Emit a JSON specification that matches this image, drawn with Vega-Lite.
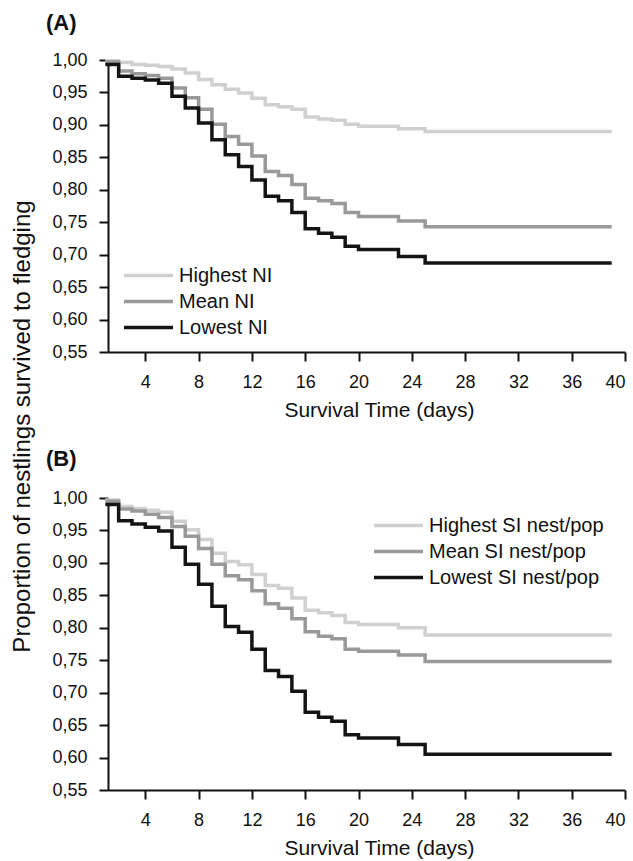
{
  "$schema": "https://vega.github.io/schema/vega-lite/v6.json",
  "background": "white",
  "padding": {"left": 10, "top": 12, "right": 5, "bottom": 5},
  "bounds": "flush",
  "spacing": 146,
  "config": {
    "font": "Liberation Sans",
    "view": {"stroke": null},
    "axis": {
      "grid": false,
      "domainColor": "#111111",
      "domainWidth": 2,
      "tickColor": "#111111",
      "tickWidth": 2,
      "tickSize": 9,
      "labelFontSize": 18,
      "labelColor": "#111111",
      "labelPadding": 12,
      "titleFontSize": 21,
      "titleFontWeight": "normal",
      "titleColor": "#111111"
    },
    "legend": {
      "labelFontSize": 20,
      "labelColor": "#111111",
      "labelLimit": 400,
      "symbolType": "stroke",
      "symbolSize": 2401,
      "symbolStrokeWidth": 3.5,
      "labelOffset": 4,
      "clipHeight": 25,
      "rowPadding": 1,
      "padding": 0,
      "title": null
    },
    "title": {"fontSize": 22, "fontWeight": "bold", "color": "#111111", "anchor": "start", "frame": "group"}
  },
  "datasets": {
    "A": [
      {"day": 1, "p": 0.999, "group": "Highest NI"},
      {"day": 2, "p": 0.996, "group": "Highest NI"},
      {"day": 3, "p": 0.993, "group": "Highest NI"},
      {"day": 4, "p": 0.992, "group": "Highest NI"},
      {"day": 5, "p": 0.990, "group": "Highest NI"},
      {"day": 6, "p": 0.986, "group": "Highest NI"},
      {"day": 7, "p": 0.980, "group": "Highest NI"},
      {"day": 8, "p": 0.970, "group": "Highest NI"},
      {"day": 9, "p": 0.962, "group": "Highest NI"},
      {"day": 10, "p": 0.955, "group": "Highest NI"},
      {"day": 11, "p": 0.949, "group": "Highest NI"},
      {"day": 12, "p": 0.941, "group": "Highest NI"},
      {"day": 13, "p": 0.931, "group": "Highest NI"},
      {"day": 14, "p": 0.928, "group": "Highest NI"},
      {"day": 15, "p": 0.924, "group": "Highest NI"},
      {"day": 16, "p": 0.912, "group": "Highest NI"},
      {"day": 17, "p": 0.909, "group": "Highest NI"},
      {"day": 18, "p": 0.907, "group": "Highest NI"},
      {"day": 19, "p": 0.901, "group": "Highest NI"},
      {"day": 20, "p": 0.898, "group": "Highest NI"},
      {"day": 23, "p": 0.894, "group": "Highest NI"},
      {"day": 25, "p": 0.890, "group": "Highest NI"},
      {"day": 39, "p": 0.890, "group": "Highest NI"},
      {"day": 1, "p": 0.997, "group": "Mean NI"},
      {"day": 2, "p": 0.983, "group": "Mean NI"},
      {"day": 3, "p": 0.979, "group": "Mean NI"},
      {"day": 4, "p": 0.976, "group": "Mean NI"},
      {"day": 5, "p": 0.972, "group": "Mean NI"},
      {"day": 6, "p": 0.957, "group": "Mean NI"},
      {"day": 7, "p": 0.942, "group": "Mean NI"},
      {"day": 8, "p": 0.924, "group": "Mean NI"},
      {"day": 9, "p": 0.901, "group": "Mean NI"},
      {"day": 10, "p": 0.882, "group": "Mean NI"},
      {"day": 11, "p": 0.870, "group": "Mean NI"},
      {"day": 12, "p": 0.852, "group": "Mean NI"},
      {"day": 13, "p": 0.828, "group": "Mean NI"},
      {"day": 14, "p": 0.822, "group": "Mean NI"},
      {"day": 15, "p": 0.808, "group": "Mean NI"},
      {"day": 16, "p": 0.787, "group": "Mean NI"},
      {"day": 17, "p": 0.783, "group": "Mean NI"},
      {"day": 18, "p": 0.779, "group": "Mean NI"},
      {"day": 19, "p": 0.765, "group": "Mean NI"},
      {"day": 20, "p": 0.759, "group": "Mean NI"},
      {"day": 23, "p": 0.752, "group": "Mean NI"},
      {"day": 25, "p": 0.743, "group": "Mean NI"},
      {"day": 39, "p": 0.743, "group": "Mean NI"},
      {"day": 1, "p": 0.993, "group": "Lowest NI"},
      {"day": 2, "p": 0.975, "group": "Lowest NI"},
      {"day": 3, "p": 0.972, "group": "Lowest NI"},
      {"day": 4, "p": 0.969, "group": "Lowest NI"},
      {"day": 5, "p": 0.964, "group": "Lowest NI"},
      {"day": 6, "p": 0.944, "group": "Lowest NI"},
      {"day": 7, "p": 0.926, "group": "Lowest NI"},
      {"day": 8, "p": 0.903, "group": "Lowest NI"},
      {"day": 9, "p": 0.877, "group": "Lowest NI"},
      {"day": 10, "p": 0.854, "group": "Lowest NI"},
      {"day": 11, "p": 0.836, "group": "Lowest NI"},
      {"day": 12, "p": 0.815, "group": "Lowest NI"},
      {"day": 13, "p": 0.790, "group": "Lowest NI"},
      {"day": 14, "p": 0.783, "group": "Lowest NI"},
      {"day": 15, "p": 0.765, "group": "Lowest NI"},
      {"day": 16, "p": 0.740, "group": "Lowest NI"},
      {"day": 17, "p": 0.733, "group": "Lowest NI"},
      {"day": 18, "p": 0.727, "group": "Lowest NI"},
      {"day": 19, "p": 0.713, "group": "Lowest NI"},
      {"day": 20, "p": 0.708, "group": "Lowest NI"},
      {"day": 23, "p": 0.697, "group": "Lowest NI"},
      {"day": 25, "p": 0.687, "group": "Lowest NI"},
      {"day": 39, "p": 0.687, "group": "Lowest NI"}
    ],
    "B": [
      {"day": 1, "p": 0.997, "group": "Highest SI nest/pop"},
      {"day": 2, "p": 0.987, "group": "Highest SI nest/pop"},
      {"day": 3, "p": 0.984, "group": "Highest SI nest/pop"},
      {"day": 4, "p": 0.981, "group": "Highest SI nest/pop"},
      {"day": 5, "p": 0.978, "group": "Highest SI nest/pop"},
      {"day": 6, "p": 0.964, "group": "Highest SI nest/pop"},
      {"day": 7, "p": 0.951, "group": "Highest SI nest/pop"},
      {"day": 8, "p": 0.936, "group": "Highest SI nest/pop"},
      {"day": 9, "p": 0.915, "group": "Highest SI nest/pop"},
      {"day": 10, "p": 0.902, "group": "Highest SI nest/pop"},
      {"day": 11, "p": 0.897, "group": "Highest SI nest/pop"},
      {"day": 12, "p": 0.882, "group": "Highest SI nest/pop"},
      {"day": 13, "p": 0.865, "group": "Highest SI nest/pop"},
      {"day": 14, "p": 0.861, "group": "Highest SI nest/pop"},
      {"day": 15, "p": 0.846, "group": "Highest SI nest/pop"},
      {"day": 16, "p": 0.827, "group": "Highest SI nest/pop"},
      {"day": 17, "p": 0.823, "group": "Highest SI nest/pop"},
      {"day": 18, "p": 0.819, "group": "Highest SI nest/pop"},
      {"day": 19, "p": 0.808, "group": "Highest SI nest/pop"},
      {"day": 20, "p": 0.805, "group": "Highest SI nest/pop"},
      {"day": 23, "p": 0.800, "group": "Highest SI nest/pop"},
      {"day": 25, "p": 0.789, "group": "Highest SI nest/pop"},
      {"day": 39, "p": 0.789, "group": "Highest SI nest/pop"},
      {"day": 1, "p": 0.995, "group": "Mean SI nest/pop"},
      {"day": 2, "p": 0.983, "group": "Mean SI nest/pop"},
      {"day": 3, "p": 0.980, "group": "Mean SI nest/pop"},
      {"day": 4, "p": 0.975, "group": "Mean SI nest/pop"},
      {"day": 5, "p": 0.970, "group": "Mean SI nest/pop"},
      {"day": 6, "p": 0.956, "group": "Mean SI nest/pop"},
      {"day": 7, "p": 0.941, "group": "Mean SI nest/pop"},
      {"day": 8, "p": 0.922, "group": "Mean SI nest/pop"},
      {"day": 9, "p": 0.898, "group": "Mean SI nest/pop"},
      {"day": 10, "p": 0.880, "group": "Mean SI nest/pop"},
      {"day": 11, "p": 0.874, "group": "Mean SI nest/pop"},
      {"day": 12, "p": 0.857, "group": "Mean SI nest/pop"},
      {"day": 13, "p": 0.837, "group": "Mean SI nest/pop"},
      {"day": 14, "p": 0.830, "group": "Mean SI nest/pop"},
      {"day": 15, "p": 0.814, "group": "Mean SI nest/pop"},
      {"day": 16, "p": 0.794, "group": "Mean SI nest/pop"},
      {"day": 17, "p": 0.787, "group": "Mean SI nest/pop"},
      {"day": 18, "p": 0.783, "group": "Mean SI nest/pop"},
      {"day": 19, "p": 0.767, "group": "Mean SI nest/pop"},
      {"day": 20, "p": 0.764, "group": "Mean SI nest/pop"},
      {"day": 23, "p": 0.758, "group": "Mean SI nest/pop"},
      {"day": 25, "p": 0.748, "group": "Mean SI nest/pop"},
      {"day": 39, "p": 0.748, "group": "Mean SI nest/pop"},
      {"day": 1, "p": 0.990, "group": "Lowest SI nest/pop"},
      {"day": 2, "p": 0.965, "group": "Lowest SI nest/pop"},
      {"day": 3, "p": 0.960, "group": "Lowest SI nest/pop"},
      {"day": 4, "p": 0.955, "group": "Lowest SI nest/pop"},
      {"day": 5, "p": 0.949, "group": "Lowest SI nest/pop"},
      {"day": 6, "p": 0.924, "group": "Lowest SI nest/pop"},
      {"day": 7, "p": 0.898, "group": "Lowest SI nest/pop"},
      {"day": 8, "p": 0.867, "group": "Lowest SI nest/pop"},
      {"day": 9, "p": 0.833, "group": "Lowest SI nest/pop"},
      {"day": 10, "p": 0.802, "group": "Lowest SI nest/pop"},
      {"day": 11, "p": 0.793, "group": "Lowest SI nest/pop"},
      {"day": 12, "p": 0.767, "group": "Lowest SI nest/pop"},
      {"day": 13, "p": 0.734, "group": "Lowest SI nest/pop"},
      {"day": 14, "p": 0.725, "group": "Lowest SI nest/pop"},
      {"day": 15, "p": 0.702, "group": "Lowest SI nest/pop"},
      {"day": 16, "p": 0.670, "group": "Lowest SI nest/pop"},
      {"day": 17, "p": 0.662, "group": "Lowest SI nest/pop"},
      {"day": 18, "p": 0.656, "group": "Lowest SI nest/pop"},
      {"day": 19, "p": 0.635, "group": "Lowest SI nest/pop"},
      {"day": 20, "p": 0.630, "group": "Lowest SI nest/pop"},
      {"day": 23, "p": 0.620, "group": "Lowest SI nest/pop"},
      {"day": 25, "p": 0.605, "group": "Lowest SI nest/pop"},
      {"day": 39, "p": 0.605, "group": "Lowest SI nest/pop"}
    ]
  },
  "resolve": {"scale": {"color": "independent"}, "legend": {"color": "independent"}},
  "vconcat": [
    {
      "title": {"text": "(A)", "dx": -62, "offset": 16},
      "width": 517,
      "height": 292,
      "data": {"name": "A"},
      "mark": {"type": "line", "interpolate": "step-after", "strokeWidth": 3.5},
      "encoding": {
        "x": {"field": "day", "type": "quantitative",
          "scale": {"domain": [1.2, 40], "nice": false, "zero": false},
          "axis": {"values": [4, 8, 12, 16, 20, 24, 28, 32, 36, 40], "title": "Survival Time (days)", "titlePadding": 8, "titleX": 271}},
        "y": {"field": "p", "type": "quantitative",
          "scale": {"domain": [0.55, 1.0], "nice": false, "zero": false},
          "axis": {"values": [0.55, 0.6, 0.65, 0.7, 0.75, 0.8, 0.85, 0.9, 0.95, 1.0],
            "labelExpr": "replace(format(datum.value, '.2f'), '.', ',')",
            "title": "Proportion of nestlings survived to fledging",
            "titleFontSize": 24,
            "titleY": 366, "titlePadding": 17}},
        "color": {"field": "group", "type": "nominal",
          "scale": {"domain": ["Highest NI", "Mean NI", "Lowest NI"], "range": ["#d0d0d0", "#999999", "#141414"]},
          "legend": {"orient": "none", "legendX": 14, "legendY": 203}}
      }
    },
    {
      "title": {"text": "(B)", "dx": -62, "offset": 18},
      "width": 517,
      "height": 292,
      "data": {"name": "B"},
      "mark": {"type": "line", "interpolate": "step-after", "strokeWidth": 3.5},
      "encoding": {
        "x": {"field": "day", "type": "quantitative",
          "scale": {"domain": [1.2, 40], "nice": false, "zero": false},
          "axis": {"values": [4, 8, 12, 16, 20, 24, 28, 32, 36, 40], "title": "Survival Time (days)", "titlePadding": 8, "titleX": 271}},
        "y": {"field": "p", "type": "quantitative",
          "scale": {"domain": [0.55, 1.0], "nice": false, "zero": false},
          "axis": {"values": [0.55, 0.6, 0.65, 0.7, 0.75, 0.8, 0.85, 0.9, 0.95, 1.0],
            "labelExpr": "replace(format(datum.value, '.2f'), '.', ',')",
            "title": null}},
        "color": {"field": "group", "type": "nominal",
          "scale": {"domain": ["Highest SI nest/pop", "Mean SI nest/pop", "Lowest SI nest/pop"], "range": ["#d0d0d0", "#999999", "#141414"]},
          "legend": {"orient": "none", "legendX": 264, "legendY": 15}}
      }
    }
  ]
}
